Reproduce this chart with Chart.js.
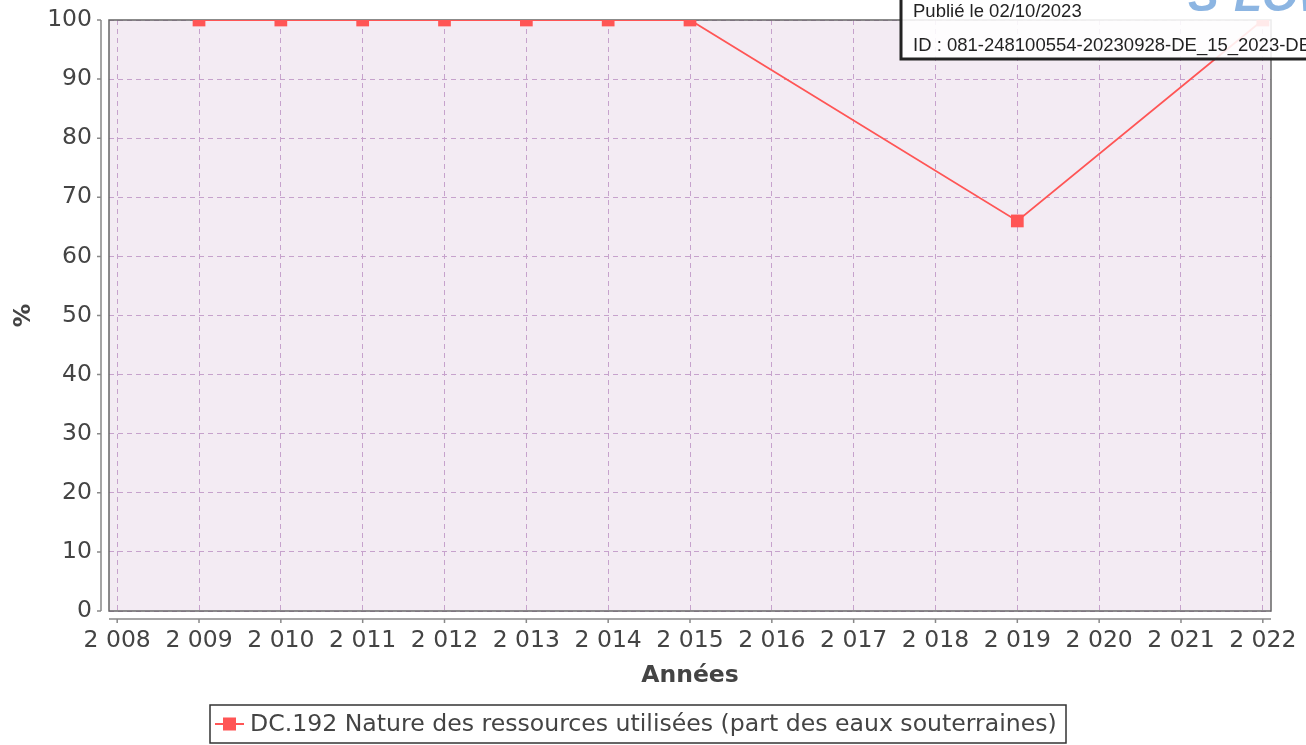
<!DOCTYPE html>
<html>
<head>
<meta charset="utf-8">
<script src="https://cdn.jsdelivr.net/npm/chart.js@4"></script>
<style>
html,body{margin:0;padding:0;background:#fff;}
#wrap{width:1306px;height:745px;position:relative;}
</style>
</head>
<body>
<div id="wrap"><canvas id="c" width="1306" height="745"></canvas></div>
<script>
// ---- data ----
const years = [2009, 2010, 2011, 2012, 2013, 2014, 2015, 2019, 2022];
const values = [100, 100, 100, 100, 100, 100, 100, 66, 100];
const xTickValues = [2008,2009,2010,2011,2012,2013,2014,2015,2016,2017,2018,2019,2020,2021,2022];
const yTickValues = [0,10,20,30,40,50,60,70,80,90,100];
const seriesLabel = "DC.192 Nature des ressources utilisées (part des eaux souterraines)";
const xTitle = "Années";
const yTitle = "%";
const stampLines = ["Publié le 02/10/2023", "ID : 081-248100554-20230928-DE_15_2023-DE"];

const FONT = "'DejaVu Sans', sans-serif";
const TXT = '#444444';
const RED = '#ff5555';

function fmtYear(v){ const s = String(v); return s.length > 3 ? s.slice(0, s.length-3) + ' ' + s.slice(-3) : s; }

const decor = {
  id: 'decor',
  beforeDraw(chart){
    const {ctx, chartArea:a} = chart;
    ctx.save();
    ctx.fillStyle = '#f3ebf3';
    ctx.fillRect(a.left, a.top, a.right-a.left, a.bottom-a.top);
    ctx.restore();
  },
  beforeDatasetsDraw(chart){
    const {ctx, chartArea:a, scales} = chart;
    ctx.save();
    ctx.strokeStyle = '#666666';
    ctx.lineWidth = 1.5;
    ctx.strokeRect(a.left, a.top, a.right-a.left, a.bottom-a.top);
    ctx.strokeStyle = '#888888';
    ctx.lineWidth = 1.5;
    const ax = a.left - 8;
    ctx.beginPath();
    ctx.moveTo(ax, a.top); ctx.lineTo(ax, a.bottom);
    yTickValues.forEach(v => { const y = scales.y.getPixelForValue(v); ctx.moveTo(ax, y); ctx.lineTo(ax-4, y); });
    const ay = a.bottom + 8;
    ctx.moveTo(a.left, ay); ctx.lineTo(a.right, ay);
    xTickValues.forEach(v => { const x = scales.x.getPixelForValue(v); ctx.moveTo(x, ay); ctx.lineTo(x, ay+4); });
    ctx.stroke();
    ctx.restore();
  },
  afterDraw(chart){
    const {ctx} = chart;
    ctx.save();
    // legend box
    const lx = 210, ly = 705, lw = 856, lh = 38;
    ctx.fillStyle = '#ffffff';
    ctx.fillRect(lx, ly, lw, lh);
    ctx.strokeStyle = '#333333';
    ctx.lineWidth = 1.5;
    ctx.strokeRect(lx, ly, lw, lh);
    const cy = ly + lh/2;
    ctx.strokeStyle = RED; ctx.lineWidth = 2;
    ctx.beginPath(); ctx.moveTo(215, cy); ctx.lineTo(244, cy); ctx.stroke();
    ctx.fillStyle = RED; ctx.fillRect(223, cy-6.5, 13, 13);
    ctx.fillStyle = TXT;
    ctx.font = "23.6px " + FONT;
    ctx.textBaseline = 'middle';
    ctx.fillText(chart.data.datasets[0].label, 250, cy+1);

    // stamp box
    ctx.fillStyle = 'rgba(255,255,255,0.88)';
    ctx.fillRect(901, -10, 420, 69);
    ctx.strokeStyle = '#222222';
    ctx.lineWidth = 3;
    ctx.strokeRect(901, -10, 420, 69);
    // logo
    ctx.fillStyle = '#8cb5e2';
    ctx.font = "italic bold 46px 'Liberation Sans', sans-serif";
    ctx.textBaseline = 'alphabetic';
    ctx.fillText("S²LOW", 1188, 11);
    ctx.fillStyle = '#222222';
    ctx.font = "18.5px 'Liberation Sans', Arial, sans-serif";
    ctx.fillText(stampLines[0], 913, 17);
    ctx.fillText(stampLines[1], 913, 51);
    ctx.restore();
  }
};

new Chart(document.getElementById('c'), {
  type: 'line',
  data: {
    datasets: [{
      label: seriesLabel,
      data: years.map((y,i) => ({x: y, y: values[i]})),
      borderColor: RED,
      backgroundColor: RED,
      borderWidth: 1.8,
      pointStyle: 'rect',
      pointRadius: 9,
      pointBorderWidth: 0,
      pointBackgroundColor: RED,
      tension: 0,
      clip: 0
    }]
  },
  options: {
    responsive: false,
    animation: false,
    events: [],
    layout: { padding: { top: 20, right: 35, left: 0, bottom: 55 } },
    plugins: { legend: { display: false }, tooltip: { enabled: false } },
    scales: {
      x: {
        type: 'linear',
        min: 2007.9, max: 2022.1,
        afterFit(s){ s.height = 79; s.paddingLeft = 0; s.paddingRight = 0; },
        afterBuildTicks(s){ s.ticks = xTickValues.map(v => ({value: v})); },
        ticks: { callback: v => fmtYear(v), color: TXT, font: { family: FONT, size: 23.5 }, padding: 16, maxRotation: 0, autoSkip: false },
        grid: { color: '#c6a2cc', lineWidth: 1, drawTicks: false },
        border: { display: false, dash: [5,4] },
        title: { display: true, text: xTitle, color: TXT, font: { family: FONT, size: 23.5, weight: 'bold' }, padding: { top: 0, bottom: 0 } }
      },
      y: {
        min: 0, max: 100,
        afterFit(s){ s.width = 109; s.paddingTop = 0; s.paddingBottom = 0; },
        afterBuildTicks(s){ s.ticks = yTickValues.map(v => ({value: v})); },
        ticks: { color: TXT, font: { family: FONT, size: 23.5 }, padding: 17 },
        grid: { color: '#c6a2cc', lineWidth: 1, drawTicks: false },
        border: { display: false, dash: [5,4] },
        title: { display: true, text: yTitle, color: TXT, font: { family: FONT, size: 23.5, weight: 'bold' }, padding: { top: 10, bottom: 0 } }
      }
    }
  },
  plugins: [decor]
});
</script>
</body>
</html>
